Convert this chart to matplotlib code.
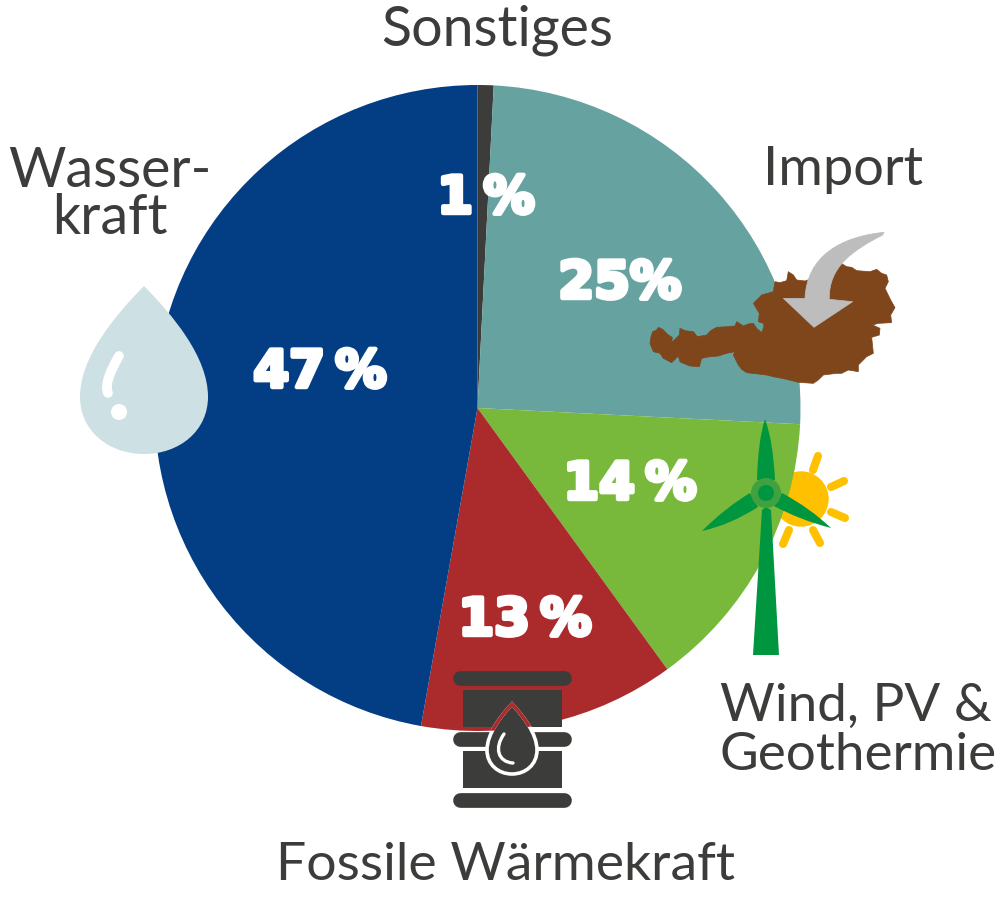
"""Strommix pie with icons, drawn in pixel coordinates of the 1000x897 picture."""
import numpy as np
import matplotlib; matplotlib.use("Agg")
import matplotlib.pyplot as plt
import matplotlib.patheffects as pe
from matplotlib.patches import Circle, Polygon, PathPatch, Rectangle
from matplotlib.path import Path

categories = ["Sonstiges", "Import", "Wind, PV & Geothermie", "Fossile Wärmekraft", "Wasserkraft"]
shares = [0.8, 25.0, 14.2, 12.8, 47.2]
share_labels = ["1\u2009%", "25%", "14\u2009%", "13\u2009%", "47\u2009%"]
colors = ["#3C3C3B", "#66A29F", "#78B83A", "#AB2A2C", "#033E85"]
TXT = "#3C3C3B"
GREEN = "#009640"

plt.rcParams["font.family"] = ["Lato", "DejaVu Sans"]
fig = plt.figure(figsize=(10, 8.97), dpi=100)
ax = fig.add_axes([0, 0, 1, 1])

# y axis points down, so counterclock in data is clockwise on screen
wedges, _ = ax.pie(shares, colors=colors, center=(477.5, 408), radius=323,
                   startangle=-90, counterclock=True, frame=True)
fossil_wedge = wedges[3]
ax.set_xlim(0, 1000); ax.set_ylim(897, 0)
ax.set_aspect("equal"); ax.axis("off")

# Sun sits behind the pie
ax.add_patch(Circle((801, 499), 27, color="#FFC000", zorder=0))
rays = [((818, 456), (813, 470)), ((844, 481), (831, 487)), ((845, 518), (831, 512)),
        ((820, 543), (813, 530)), ((783, 544), (789, 530))]
for a, b in rays:
    ax.plot([a[0], b[0]], [a[1], b[1]], color="#FFC000", lw=5.8, solid_capstyle="round", zorder=0)

z = [(30,370),(33,350),(38,335),(50,330),(55,322),(68,328),(85,345),(97,352),(95,367),(108,355),(118,345),
     (120,325),(135,332),(160,335),(172,350),(200,345),(212,332),(230,322),(262,320),(285,318),(290,305),
     (310,318),(325,312),(340,310),(350,325),(365,338),(372,320),(370,310),(355,305),(358,280),(340,250),
     (365,225),(400,215),(405,185),(420,188),(440,182),(445,155),(460,165),(470,180),(495,183),(560,160),
     (600,128),(620,140),(635,142),(650,152),(690,155),(710,148),(725,160),(740,165),(745,185),(735,205),
     (752,240),(765,263),(752,285),(755,308),(715,310),(698,315),(720,325),(718,345),(695,352),(698,380),
     (700,400),(680,410),(665,425),(655,435),(655,455),(625,450),(605,460),(590,460),(550,465),(535,480),
     (520,490),(475,487),(440,478),(400,470),(380,465),(320,458),(305,448),(295,435),(280,405),(285,395),
     (260,400),(235,408),(210,410),(185,415),(178,440),(150,438),(125,428),(120,425),(115,408),(95,428),
     (80,420),(70,415),(60,400),(40,395)]
austria = [(640 + x / 3, 220 + y / 3) for x, y in z]
ax.add_patch(Polygon(austria, closed=True, fc="#7F451B", ec="#7F451B", lw=0.5, zorder=3))

# Import arrow
def zz(x, y):
    return (640 + x / 3, 220 + y / 3)
arrow_v = [zz(732,37), zz(600,50), zz(500,110), zz(495,235), zz(430,235), zz(522,322), zz(638,245),
           zz(568,238), zz(565,140), zz(640,90), zz(728,45), zz(732,37)]
arrow_c = [Path.MOVETO, Path.CURVE4, Path.CURVE4, Path.CURVE4, Path.LINETO, Path.LINETO, Path.LINETO,
           Path.LINETO, Path.CURVE4, Path.CURVE4, Path.CURVE4, Path.CLOSEPOLY]
ax.add_patch(PathPatch(Path(arrow_v, arrow_c), fc="#BDBDBD", ec="#BDBDBD", lw=0.5, zorder=4))

# Wind turbine
blade_paths = [
    [(765, 419), (773, 440), (775, 480), (757, 480), (758, 440), (765, 419)],
    [(702, 531), (725, 508), (750, 493), (758, 507), (730, 525), (702, 531)],
    [(831, 528), (810, 508), (782, 493), (774, 506), (800, 520), (831, 528)],
]
codes = [Path.MOVETO, Path.CURVE3, Path.CURVE3, Path.LINETO, Path.CURVE3, Path.CURVE3]
for bp in blade_paths:
    ax.add_patch(PathPatch(Path(bp, codes), fc=GREEN, ec="none", zorder=5))
tower = [(762, 510), (766, 507), (771, 510), (779, 655), (753, 655)]
ax.add_patch(Polygon(tower, closed=True, fc=GREEN, ec="none", zorder=5))
ax.add_patch(Circle((766, 493), 15, fc="#3FA13F", ec="none", zorder=5))
ax.add_patch(Circle((766, 493), 8, fc=GREEN, ec="none", zorder=6))

# Oil barrel
BAR = "#3C3C3B"
for y in (671, 732, 793):
    ax.plot([460, 564], [y + 7.5, y + 7.5], color=BAR, lw=10.6, solid_capstyle="round", zorder=5)
ax.add_patch(Rectangle((463, 690), 99, 37, fc=BAR, ec="none", zorder=5))
ax.add_patch(Rectangle((463, 751), 99, 37, fc=BAR, ec="none", zorder=5))

def drop_path(tipx, tipy, w, h):
    # teardrop from tip down to a round belly
    x0 = tipx
    verts = [(x0, tipy),
             (x0 + w * 0.22, tipy + h * 0.17), (x0 + w * 0.5, tipy + h * 0.42), (x0 + w * 0.5, tipy + h * 0.66),
             (x0 + w * 0.5, tipy + h * 0.86), (x0 + w * 0.28, tipy + h), (x0, tipy + h),
             (x0 - w * 0.28, tipy + h), (x0 - w * 0.5, tipy + h * 0.86), (x0 - w * 0.5, tipy + h * 0.66),
             (x0 - w * 0.5, tipy + h * 0.42), (x0 - w * 0.22, tipy + h * 0.17), (x0, tipy), (x0, tipy)]
    c = [Path.MOVETO] + [Path.CURVE4] * 12 + [Path.CLOSEPOLY]
    return Path(verts, c)

oil = drop_path(512, 704, 50, 70)
ax.add_patch(PathPatch(oil, fc=BAR, ec="white", lw=2.6, zorder=6))
red = PathPatch(oil, fc="none", ec=colors[3], lw=2.6, zorder=7)
ax.add_patch(red)
red.set_clip_path(fossil_wedge)
hl = Path([(504, 734), (494, 748), (498, 762), (513, 763)], [Path.MOVETO, Path.CURVE4, Path.CURVE4, Path.CURVE4])
ax.add_patch(PathPatch(hl, fc="none", ec="white", lw=2.4, capstyle="round", zorder=8))

# Water drop
ax.add_patch(PathPatch(drop_path(144, 286, 128, 168), fc="#CDE0E4", ec="none", zorder=5))
hl2 = Path([(119, 356), (112, 368), (104, 384), (108, 393)], [Path.MOVETO, Path.CURVE4, Path.CURVE4, Path.CURVE4])
ax.add_patch(PathPatch(hl2, fc="none", ec="white", lw=7, capstyle="round", zorder=6))
ax.add_patch(Circle((119, 412), 8, fc="white", ec="none", zorder=6))

# Percentage labels
pct_pos = [(486, 199), (620, 284), (630, 485), (525, 621), (320, 373)]
for (x, y), s in zip(pct_pos, share_labels):
    ax.text(x, y, s, ha="center", va="center", fontsize=37, color="white", fontweight="bold",
            family="DejaVu Sans", zorder=9,
            path_effects=[pe.withStroke(linewidth=3.2, foreground="white")])

# Category labels
label_style = dict(color=TXT, va="center", zorder=10)
ax.text(497, 30, "Sonstiges", ha="center", fontsize=40, **label_style)
ax.text(843, 169, "Import", ha="center", fontsize=39, **label_style)
ax.text(110, 195, "Wasser-\nkraft", ha="center", fontsize=40, linespacing=0.9, **label_style)
ax.text(720, 731, "Wind, PV &\nGeothermie", ha="left", fontsize=38.2, linespacing=1.06, **label_style)
ax.text(506, 865, "Fossile Wärmekraft", ha="center", fontsize=38.5, **label_style)

fig.savefig("out.png", dpi=100)
plt.close()
